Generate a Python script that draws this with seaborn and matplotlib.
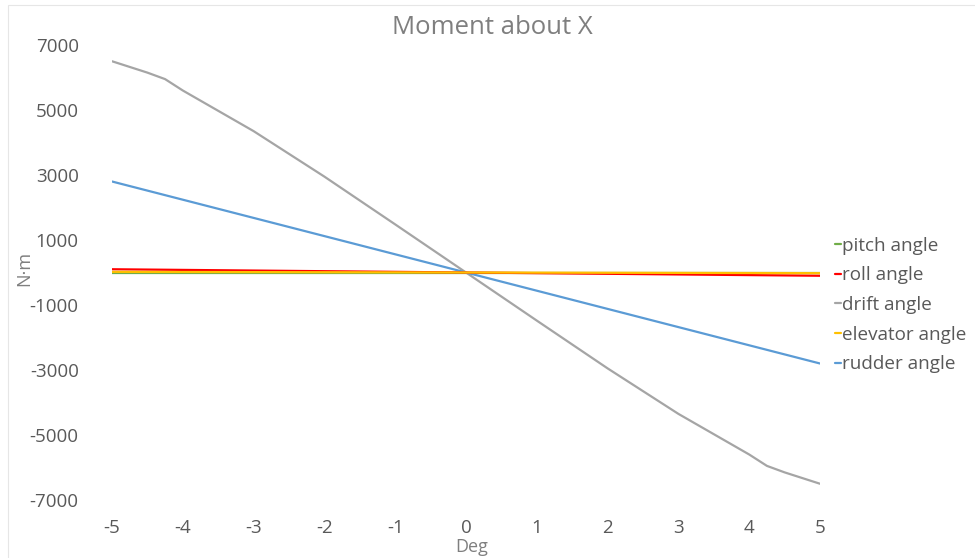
import matplotlib
matplotlib.use("Agg")
import matplotlib.pyplot as plt
from matplotlib.patches import Rectangle
from matplotlib.lines import Line2D
import seaborn as sns
import pandas as pd

# Deflection angle (deg) and moment about X (N·m) for each swept parameter
deg = [-5, -4.5, -4.25, -4, -3, -2, -1, 0, 1, 2, 3, 4, 4.25, 4.5, 5]
pitch = [0, 0, 0, 0, 0, 0, 0, 0, 0, 0, 0, 0, 0, 0, 0]
roll = [100, 90, 85, 80, 60, 40, 20, 0, -20, -40, -60, -80, -85, -90, -100]
drift = [6500, 6150, 5950, 5600, 4350, 2950, 1480, 0, -1480, -2950, -4350, -5600, -5950, -6150, -6500]
elevator = [20, 18, 17, 16, 12, 8, 4, 0, -4, -8, -12, -16, -17, -18, -20]
rudder = [2800, 2520, 2380, 2240, 1680, 1120, 560, 0, -560, -1120, -1680, -2240, -2380, -2520, -2800]

series_names = ["pitch angle", "roll angle", "drift angle", "elevator angle", "rudder angle"]
series_values = [pitch, roll, drift, elevator, rudder]
colors = ["#70AD47", "#FF0000", "#A5A5A5", "#FFC000", "#5B9BD5"]

y_ticks = [-7000, -5000, -3000, -1000, 1000, 3000, 5000, 7000]
x_ticks = [-5, -4, -3, -2, -1, 0, 1, 2, 3, 4, 5]

frames = []
for name, vals in zip(series_names, series_values):
    frames.append(pd.DataFrame({"Deg": deg, "moment": vals, "series": name}))
df = pd.concat(frames, ignore_index=True)

sns.set_theme(style="white")
plt.rcParams["font.family"] = ["Open Sans", "DejaVu Sans"]

fig = plt.figure(figsize=(9.75, 5.58), dpi=100)
fig.patches.append(Rectangle((8 / 975, -0.01), 1.0, 1 - 5 / 558 + 0.01,
                             transform=fig.transFigure, fill=False,
                             edgecolor="#E6E6E6", linewidth=0.8))
ax = fig.add_axes([112 / 975, 1 - 500 / 558, 708 / 975, 455 / 558])

# draw order: pitch, drift, rudder under roll/elevator
draw_order = ["pitch angle", "drift angle", "rudder angle", "roll angle", "elevator angle"]
palette = dict(zip(series_names, colors))
for name in draw_order:
    sub = df[df["series"] == name]
    sns.lineplot(data=sub, x="Deg", y="moment", color=palette[name],
                 linewidth=1.6, ax=ax, legend=False)

ax.set_xlim(-5, 5)
ax.set_ylim(-7000, 7000)
ax.set_xticks(x_ticks)
ax.set_xticklabels([str(v) for v in x_ticks])
ax.set_yticks(y_ticks)
ax.set_yticklabels([str(v) for v in y_ticks])
for s in ax.spines.values():
    s.set_visible(False)
ax.tick_params(axis="y", length=0, pad=24, labelsize=13.5, labelcolor="#595959")
ax.tick_params(axis="x", length=0, pad=14, labelsize=13.5, labelcolor="#595959")

ax.set_xlabel("Deg", fontsize=13, color="#7F7F7F")
ax.set_ylabel("N·m", fontsize=13, color="#7F7F7F")
ax.xaxis.label.set_va("center")
ax.yaxis.label.set_va("center")
ax.xaxis.set_label_coords((472 - 112) / 708, -(547 - 500) / 455)
ax.yaxis.set_label_coords(-(112 - 24) / 708, (500 - 268) / 455)

fig.text(492 / 975, 1 - 28 / 558, "Moment about X", ha="center", va="center",
         fontsize=18.5, color="#7F7F7F")

# legend
handles = [Line2D([0], [0], color=c, linewidth=1.6) for c in colors]
leg = fig.legend(handles, series_names, loc="upper left",
                 bbox_to_anchor=(827 / 975, 1 - 229 / 558), frameon=False,
                 handlelength=0.35, handletextpad=0.05, labelspacing=0.62,
                 fontsize=13.6, borderaxespad=0)
for t in leg.get_texts():
    t.set_color("#595959")

fig.savefig("out.png", dpi=100)
